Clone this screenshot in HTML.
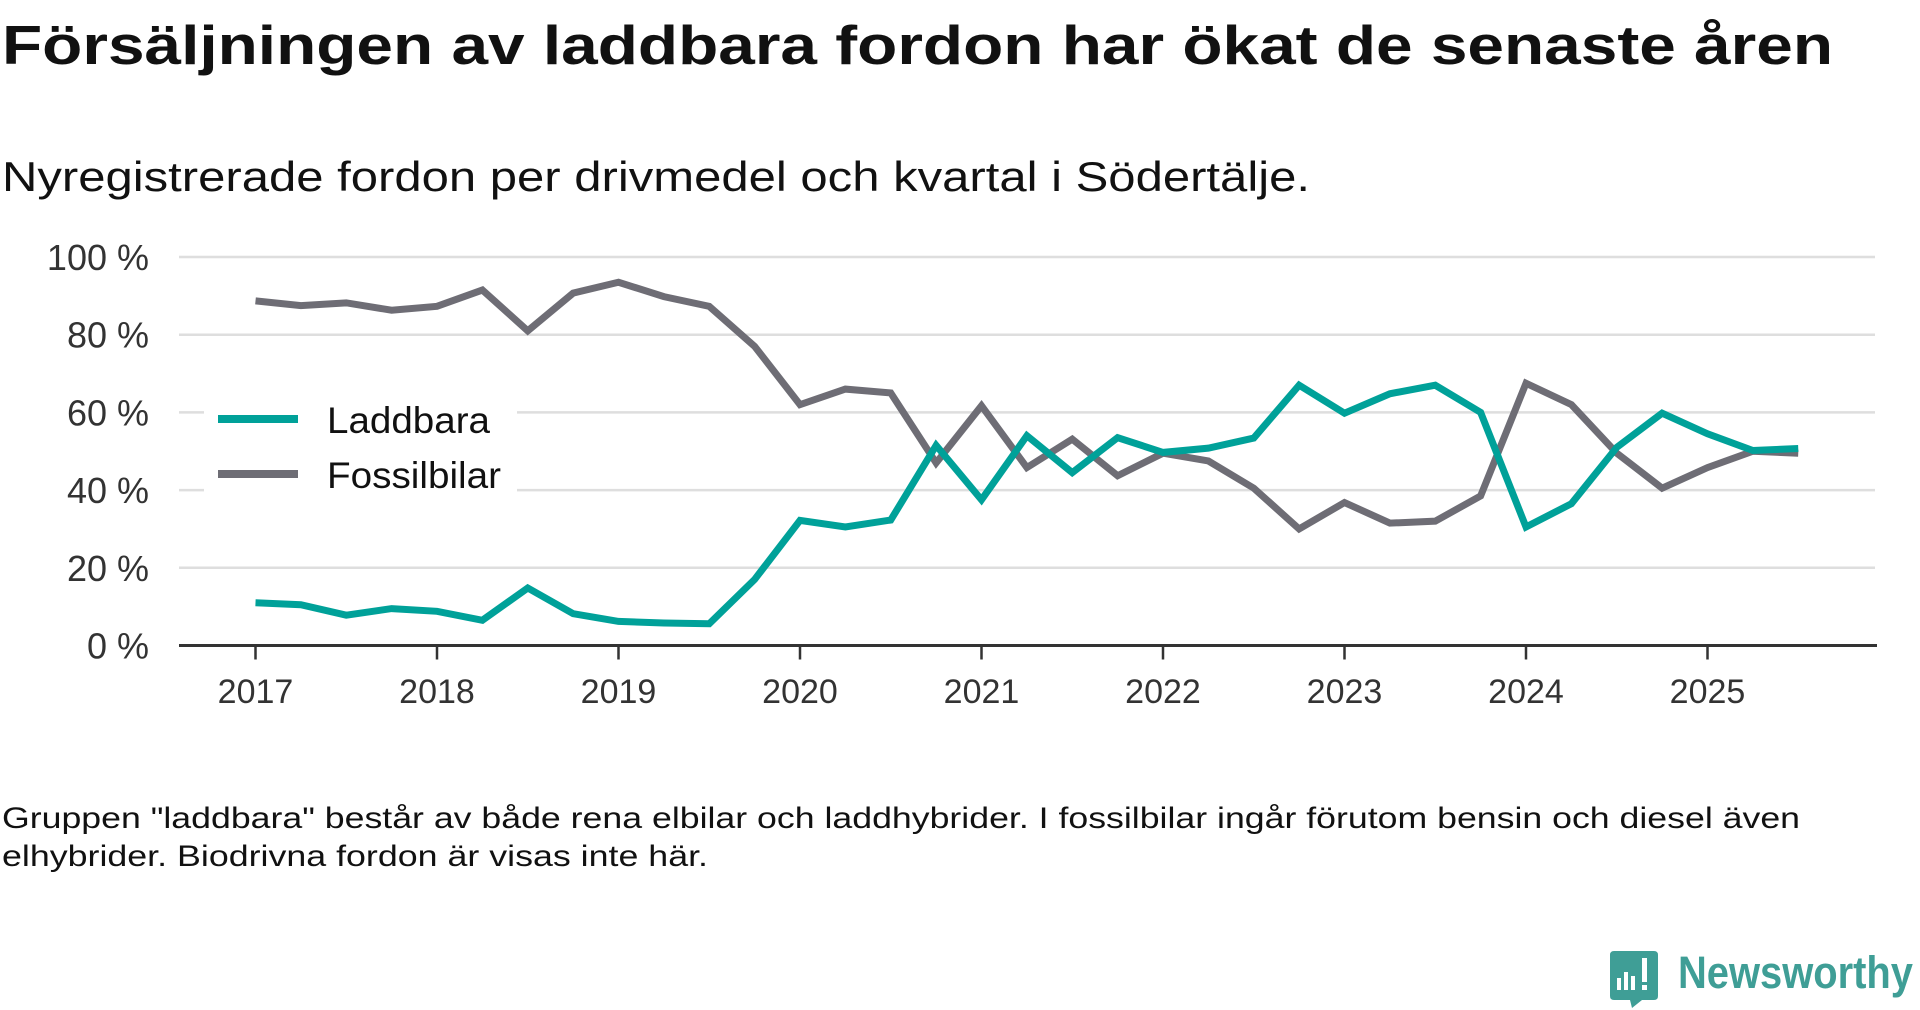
<!DOCTYPE html>
<html><head><meta charset="utf-8"><style>
html,body{margin:0;padding:0;background:#fff;}
svg{display:block;font-family:"Liberation Sans","DejaVu Sans",sans-serif;}
</style></head><body>
<svg width="1920" height="1010" viewBox="0 0 1920 1010">
<text x="2" y="64" font-size="55" font-weight="bold" fill="#111" textLength="1831" lengthAdjust="spacingAndGlyphs">Försäljningen av laddbara fordon har ökat de senaste åren</text>
<text x="2" y="191" font-size="42" fill="#111" textLength="1308" lengthAdjust="spacingAndGlyphs">Nyregistrerade fordon per drivmedel och kvartal i Södertälje.</text>
<g id="grid"></g>
<g id="yticks"></g>
<g id="xaxis"></g>
<rect x="204" y="392" width="313" height="106" fill="#fff"/>
<g id="series"></g>
<g>
<g>
<line x1="218" y1="419" x2="298" y2="419" stroke="#00a199" stroke-width="8"/>
<text x="327" y="433" font-size="37" fill="#111" textLength="163" lengthAdjust="spacingAndGlyphs">Laddbara</text></g>
<g>
<line x1="218" y1="474" x2="298" y2="474" stroke="#6e6d75" stroke-width="8"/>
<text x="327" y="488" font-size="37" fill="#111" textLength="174" lengthAdjust="spacingAndGlyphs">Fossilbilar</text></g>
</g>
<text x="2" y="828" font-size="30" fill="#111" textLength="1798" lengthAdjust="spacingAndGlyphs">Gruppen "laddbara" består av både rena elbilar och laddhybrider. I fossilbilar ingår förutom bensin och diesel även</text>
<text x="2" y="866" font-size="30" fill="#111" textLength="706" lengthAdjust="spacingAndGlyphs">elhybrider. Biodrivna fordon är visas inte här.</text>
<g>
<path d="M1614 951 H1654 Q1658 951 1658 955 V996 Q1658 1000 1654 1000 H1642 L1632 1008 L1630 1000 H1614 Q1610 1000 1610 996 V955 Q1610 951 1614 951 Z" fill="#3f9e96"/>
<rect x="1617" y="978" width="4" height="12" fill="#fff"/><rect x="1624" y="972" width="4" height="18" fill="#fff"/><rect x="1631" y="976" width="4" height="14" fill="#fff"/><rect x="1642" y="958" width="5" height="24" fill="#fff"/><rect x="1642" y="985" width="5" height="5" fill="#fff"/>
<text x="1678" y="988" font-size="45" font-weight="bold" fill="#3f9e96" textLength="235" lengthAdjust="spacingAndGlyphs">Newsworthy</text>
</g>
</svg>
<script>
const years = [2017,2018,2019,2020,2021,2022,2023,2024,2025];
const yTicks = [0,20,40,60,80,100];
const laddbara = [11,10.5,7.8,9.5, 8.8,6.5,14.8,8.2, 6.2,5.8,5.6,17, 32.2,30.5,32.3,51.5, 37.5,54,44.5,53.5, 49.7,50.8,53.4,67, 59.8,64.8,67,60, 30.5,36.5,51,59.8, 54.5,50.2,50.7];
const fossil = [88.7,87.5,88.2,86.3, 87.3,91.5,81,90.7, 93.5,89.8,87.3,77, 62,66,65,47, 61.7,45.8,53.1,43.7, 49.5,47.5,40.5,30, 36.8,31.5,32,38.5, 67.5,62,49.5,40.5, 45.8,50,49.5];
const NS='http://www.w3.org/2000/svg';
const X0=255.5, PERYEAR=181.5, Y0=645.5, Y100=257;
const xs = q => X0 + q*PERYEAR/4;
const ys = v => Y0 - v*(Y0-Y100)/100;
function mk(tag, attrs, parent){const e=document.createElementNS(NS,tag);for(const k in attrs)e.setAttribute(k,attrs[k]);parent.appendChild(e);return e;}
const grid=document.getElementById('grid'), yt=document.getElementById('yticks'), xa=document.getElementById('xaxis'), se=document.getElementById('series');
yTicks.forEach(t=>{
  if(t>0){const l=mk('line',{x1:179,x2:1875,y1:ys(t),y2:ys(t),stroke:'#dedede','stroke-width':2.5},grid);
  
  }
  const tx=mk('text',{x:149,y:ys(t)+13,'font-size':36,fill:'#333','text-anchor':'end'},yt);
  tx.textContent=t+' %';
  
  
});
const ax=mk('line',{x1:179,x2:1877,y1:Y0,y2:Y0,stroke:'#333','stroke-width':3},xa);


years.forEach((y,i)=>{
  const x=xs(i*4);
  const tk=mk('line',{x1:x,x2:x,y1:Y0,y2:Y0+14,stroke:'#333','stroke-width':2.5},xa);
  
  
  const tx=mk('text',{x:x,y:703,'font-size':34,fill:'#333','text-anchor':'middle'},xa);
  tx.textContent=y;
  
  
});
function line(data,color,name){
  const p=mk('polyline',{points:data.map((v,i)=>xs(i)+','+ys(v)).join(' '),fill:'none',stroke:color,'stroke-width':7,'stroke-linejoin':'miter'},se);
  
  
}
line(fossil,'#6e6d75','line-fossilbilar');
line(laddbara,'#00a199','line-laddbara');
</script>
</body></html>
